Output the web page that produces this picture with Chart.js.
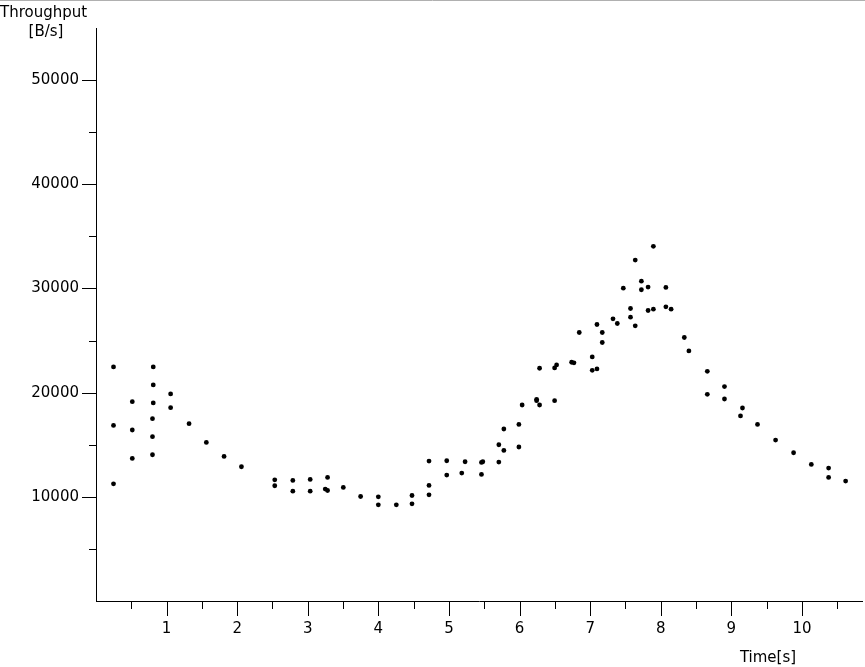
<!DOCTYPE html>
<html>
<head>
<meta charset="utf-8">
<script src="https://cdn.jsdelivr.net/npm/chart.js@4/dist/chart.umd.min.js"></script>
<style>
  html, body { margin: 0; padding: 0; background: #fff; }
  #wrap { width: 865px; height: 667px; position: relative; }
</style>
</head>
<body>
<div id="wrap"><canvas id="chart"></canvas></div>
<script>
// tiempos (s) y throughput (B/s)
const timeS = [
  0.248, 0.248, 0.248, 0.514, 0.514, 0.514, 0.811, 0.811, 0.811, 0.800, 0.800, 0.800,
  1.057, 1.057, 1.318, 1.563, 1.814, 2.060, 2.532, 2.532, 2.788, 2.788, 3.034, 3.034,
  3.280, 3.280, 3.247, 3.503, 3.748, 3.999, 3.999, 4.254, 4.476, 4.476,
  4.717, 4.717, 4.717, 4.968, 4.968, 5.181, 5.228, 5.460, 5.460, 5.479,
  5.706, 5.706, 5.777, 5.777, 5.990, 5.990, 6.036, 6.241, 6.241, 6.283, 6.283,
  6.496, 6.496, 6.524, 6.737, 6.770, 6.845, 7.029, 7.029, 7.096, 7.096, 7.171, 7.171,
  7.323, 7.384, 7.469, 7.571, 7.571, 7.638, 7.638, 7.725, 7.725, 7.820, 7.820,
  7.895, 7.895, 8.072, 8.072, 8.146, 8.333, 8.398, 8.659, 8.659, 8.902, 8.902,
  9.129, 9.157, 9.370, 9.626, 9.881, 10.132, 10.377, 10.377, 10.618
];
const throughput = [
  22470, 16856, 11250, 19135, 16413, 13683, 22470, 20740, 19010, 17500, 15770, 14040,
  19875, 18560, 17020, 15220, 13880, 12885, 11635, 11060, 11570, 10545, 11665, 10545,
  11860, 10605, 10740, 10900, 10030, 10000, 9230, 9230, 10125, 9325,
  13430, 11090, 10190, 13460, 12085, 12280, 13365, 13300, 12145, 13365,
  15000, 13335, 16510, 14450, 16950, 14780, 18815, 19360, 19230, 22340, 18815,
  22370, 19230, 22660, 22915, 22860, 25770, 23430, 22145, 26540, 22275, 25770, 24810,
  27085, 26635, 30030, 28075, 27240, 32720, 26410, 30700, 29875, 30130, 27885,
  34040, 28010, 30100, 28240, 28010, 25290, 24000, 22050, 19840, 20580, 19390,
  17760, 18525, 16950, 15450, 14230, 13110, 12760, 11860, 11510
];
const xTickLabels = ['1', '2', '3', '4', '5', '6', '7', '8', '9', '10'];
const yTickLabels = ['10000', '20000', '30000', '40000', '50000'];

const points = timeS.map((t, i) => ({ x: t, y: throughput[i] }));

// marcas de eje mayores/menores y textos de los ejes
const axisDecor = {
  id: 'axisDecor',
  afterDraw(chart) {
    const ctx = chart.ctx;
    const xs = chart.scales.x, ys = chart.scales.y;
    const a = chart.chartArea;
    ctx.save();
    ctx.strokeStyle = '#000';
    ctx.lineWidth = 1;
    ctx.beginPath();
    xs.ticks.forEach(tk => {
      const v = Math.round(tk.value * 10) / 10;
      if (v <= 0 || v > 10.6) return;
      const px = Math.round(xs.getPixelForValue(v)) + 0.5;
      const len = Number.isInteger(v) ? 15 : 8;
      ctx.moveTo(px, a.bottom);
      ctx.lineTo(px, a.bottom + len);
    });
    ys.ticks.forEach(tk => {
      const v = Math.round(tk.value / 100) * 100;
      if (v <= 0 || v > 50000) return;
      const py = Math.round(ys.getPixelForValue(v)) + 0.5;
      const len = v % 10000 === 0 ? 14 : 7;
      ctx.moveTo(a.left - len, py);
      ctx.lineTo(a.left, py);
    });
    ctx.stroke();

    // línea gris superior
    ctx.strokeStyle = '#b0b0b0';
    ctx.beginPath();
    ctx.moveTo(0, 0.5);
    ctx.lineTo(chart.width, 0.5);
    ctx.stroke();

    ctx.fillStyle = '#000';
    ctx.font = '15px "DejaVu Sans"';
    ctx.textBaseline = 'alphabetic';
    ctx.textAlign = 'left';
    ctx.fillText('Throughput', 0, 17);
    ctx.textAlign = 'center';
    ctx.fillText('[B/s]', 46, 36);
    ctx.fillText('Time[s]', 768, 662);
    ctx.restore();
  }
};

new Chart(document.getElementById('chart'), {
  type: 'scatter',
  data: {
    datasets: [{
      data: points,
      backgroundColor: '#000',
      borderWidth: 0,
      pointRadius: 2.4,
      pointHoverRadius: 2.4
    }]
  },
  options: {
    responsive: true,
    maintainAspectRatio: false,
    animation: false,
    events: [],
    layout: { padding: { top: 28, right: 3, left: 0, bottom: 0 } },
    plugins: { legend: { display: false }, tooltip: { enabled: false } },
    scales: {
      x: {
        type: 'linear',
        min: 0,
        max: 10.85,
        afterFit(scale) { scale.height = 66; },
        border: { display: true, color: '#000', width: 1 },
        grid: { drawOnChartArea: false, drawTicks: true, tickLength: 15, color: 'rgba(0,0,0,0)' },
        ticks: {
          stepSize: 0.5,
          includeBounds: false,
          autoSkip: false,
          maxRotation: 0,
          padding: 4,
          color: '#000',
          font: { family: 'DejaVu Sans', size: 15 },
          callback: v => {
            const s = String(Math.round(v * 10) / 10);
            return xTickLabels.includes(s) ? s : '';
          }
        }
      },
      y: {
        min: 0,
        max: 55000,
        afterFit(scale) { scale.width = 96; },
        border: { display: true, color: '#000', width: 1 },
        grid: { drawOnChartArea: false, drawTicks: true, tickLength: 14, color: 'rgba(0,0,0,0)' },
        ticks: {
          stepSize: 5000,
          autoSkip: false,
          padding: 3,
          color: '#000',
          font: { family: 'DejaVu Sans', size: 15 },
          callback: v => {
            const s = String(Math.round(v / 100) * 100);
            return yTickLabels.includes(s) ? s : '';
          }
        }
      }
    }
  },
  plugins: [axisDecor]
});
</script>
</body>
</html>
